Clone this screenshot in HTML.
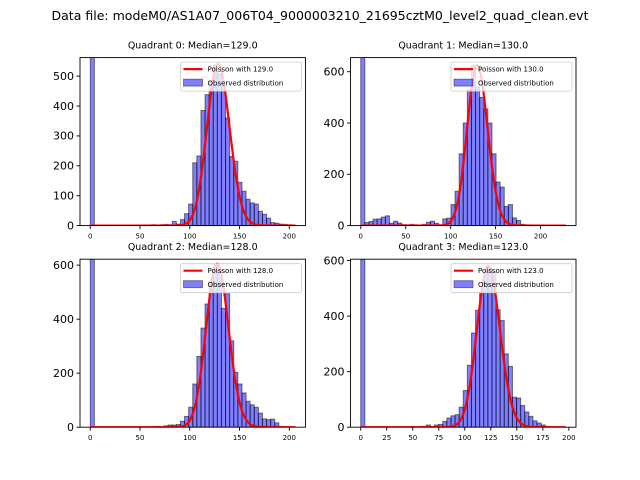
<!DOCTYPE html>
<html><head><meta charset="utf-8"><style>
body{margin:0;background:#fff}
svg{display:block;font-family:"DejaVu Sans","Liberation Sans",sans-serif}
</style></head><body>
<svg id="fig" width="640" height="480" viewBox="0 0 640 480">
<text x="320" y="20" text-anchor="middle" font-size="12" textLength="537" lengthAdjust="spacingAndGlyphs">Data file: modeM0/AS1A07_006T04_9000003210_21695cztM0_level2_quad_clean.evt</text>
</svg>
<script>
const titles = ["Quadrant 0: Median=129.0","Quadrant 1: Median=130.0","Quadrant 2: Median=128.0","Quadrant 3: Median=123.0"];
const lambdas = [129.0,130.0,128.0,123.0];
const dataMax = [206,228,206,197];
const yMax = [562,655,622,605];
const curvePeak = [541,625,605,580];
const yTicks0 = [0,100,200,300,400,500];
const yTicks1 = [0,200,400,600];
const yTicks2 = [0,200,400,600];
const yTicks3 = [0,200,400,600];
const xTicks0 = [0,50,100,150,200];
const xTicks1 = [0,50,100,150,200];
const xTicks2 = [0,50,100,150,200];
const xTicks3 = [0,25,50,75,100,125,150,175,200];
const counts0 = [5000,1,0,1,0,0,1,0,1,0,1,0,1,1,2,3,2,3,4,3,14,5,20,40,72,210,233,385,438,483,538,507,465,360,231,215,145,115,88,76,72,48,38,25,10,8,5,4,3,2];
const counts1 = [5000,12,16,25,26,33,38,9,17,10,4,3,5,3,2,5,13,17,9,3,26,29,82,134,280,400,530,625,540,500,455,400,280,170,150,75,82,30,20,5,3,2,2,1,2,1,1,1,0,1];
const counts2 = [5000,0,0,0,0,0,0,0,0,0,0,1,0,1,1,2,3,1,5,8,8,10,22,40,74,160,262,367,456,540,602,580,440,494,320,203,160,127,96,83,74,52,31,28,30,16,3,2,1,1];
const counts3 = [5000,0,0,0,0,0,0,0,1,1,1,1,2,1,2,3,8,3,8,10,21,33,41,45,72,132,223,339,421,487,561,575,560,423,384,264,219,108,105,78,55,39,23,15,8,3,2,1,0,1];
const yTicksAll=[yTicks0,yTicks1,yTicks2,yTicks3];
const xTicksAll=[xTicks0,xTicks1,xTicks2,xTicks3];
const countsAll=[counts0,counts1,counts2,counts3];
const NS="http://www.w3.org/2000/svg";
const fig=document.getElementById('fig');
const boxes=[[80,57.6],[350.5,57.6],[80,259.2],[350.5,259.2]];
const W=225.5,H=168;
function mk(tag,attrs,parent){const e=document.createElementNS(NS,tag);for(const k in attrs)e.setAttribute(k,attrs[k]);(parent||fig).appendChild(e);return e;}
function logFact(n){let s=0;for(let i=2;i<=n;i++)s+=Math.log(i);return s;}
for(let q=0;q<4;q++){
  const [L,T]=boxes[q];
  const M=dataMax[q];
  const x0=-0.05*M,x1=1.05*M;
  const sx=v=>L+(v-x0)/(x1-x0)*W;
  const sy=v=>T+H-v/yMax[q]*H;
  const g=mk('g',{});
  
  
  const cp=mk('clipPath',{id:'cp'+q},g);
  mk('rect',{x:L,y:T,width:W,height:H},cp);
  const bars=mk('g',{'clip-path':'url(#cp'+q+')'},g);
  
  
  const counts=countsAll[q];const n=counts.length;const bw=M/n;
  for(let i=0;i<n;i++){
    if(counts[i]<=0)continue;
    const xa=sx(i*bw),xb=sx((i+1)*bw);
    const r=mk('rect',{x:xa,y:sy(counts[i]),width:xb-xa,height:sy(0)-sy(counts[i]),fill:'rgba(0,0,255,0.5)',stroke:'rgba(0,0,0,0.5)','stroke-width':1},bars);
    
    
  }
  // poisson curve
  const lam=lambdas[q];const mode=Math.floor(lam);
  const pmode=Math.exp(mode*Math.log(lam)-lam-logFact(mode));
  let d='';
  for(let k=0;k<=M;k++){
    const p=Math.exp(k*Math.log(lam)-lam-logFact(k));
    const v=p/pmode*curvePeak[q];
    d+=(k?'L':'M')+sx(k).toFixed(2)+','+sy(v).toFixed(2);
  }
  const line=mk('path',{d:d,fill:'none',stroke:'#ff0000','stroke-width':2.2,'stroke-linejoin':'round'},bars);
  
  
  // frame
  mk('rect',{x:L,y:T,width:W,height:H,fill:'none',stroke:'#000','stroke-width':0.9},g);
  // y ticks
  for(const t of yTicksAll[q]){
    const y=sy(t);
    mk('line',{x1:L-3.5,x2:L,y1:y,y2:y,stroke:'#000','stroke-width':0.9},g);
    const tx=mk('text',{x:L-6,y:y+3.8,'text-anchor':'end','font-size':11},g);
    tx.textContent=t;
    
    
  }
  for(const t of xTicksAll[q]){
    const x=sx(t);
    mk('line',{x1:x,x2:x,y1:T+H,y2:T+H+3.5,stroke:'#000','stroke-width':0.9},g);
    const tx=mk('text',{x:x,y:T+H+13,'text-anchor':'middle','font-size':7},g);
    tx.textContent=t;
    
    
  }
  const ti=mk('text',{x:L+W/2,y:T-9,'text-anchor':'middle','font-size':9.5},g);
  ti.textContent=titles[q];
  
  
  // legend
  const lg=mk('g',{},g);
  
  
  const lx=L+W-125,ly=T+4.5;
  mk('rect',{x:lx,y:ly,width:121,height:29,rx:2,fill:'rgba(255,255,255,0.8)',stroke:'#ccc','stroke-width':0.8},lg);
  mk('line',{x1:lx+3,x2:lx+22,y1:ly+7,y2:ly+7,stroke:'#ff0000','stroke-width':2.2},lg);
  const t1=mk('text',{x:lx+27,y:ly+9.5,'font-size':7},lg);
  t1.textContent='Poisson with '+lambdas[q].toFixed(1);
  
  
  mk('rect',{x:lx+3,y:ly+17,width:19,height:7,fill:'rgba(0,0,255,0.5)',stroke:'rgba(0,0,0,0.5)','stroke-width':0.8},lg);
  const t2=mk('text',{x:lx+27,y:ly+23.5,'font-size':7},lg);
  t2.textContent='Observed distribution';
  
  
}
</script>
</body></html>
